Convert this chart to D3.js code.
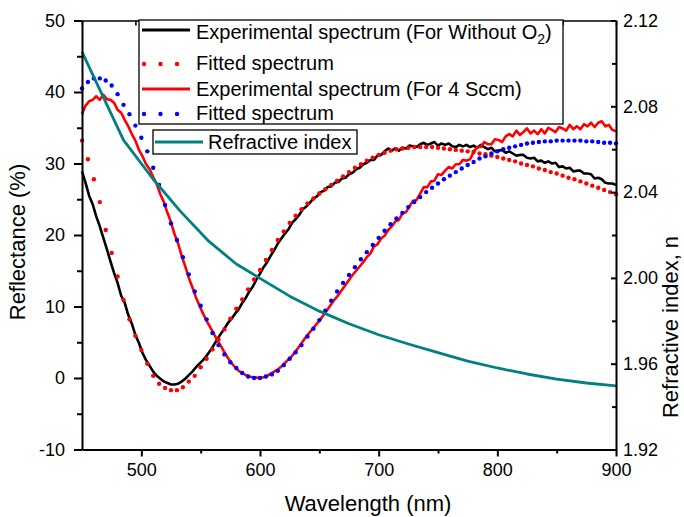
<!DOCTYPE html>
<html>
<head>
<meta charset="utf-8">
<script src="https://cdn.jsdelivr.net/npm/d3@7"></script>
<style>
  html, body { margin: 0; padding: 0; background: #fff; }
  svg { display: block; font-family: "Liberation Sans", Arial, Helvetica, sans-serif; }
</style>
</head>
<body>
<svg id="chart" width="684" height="517"></svg>
<script>
// Measured reflectance, sampled every 3 nm from 450 nm
const expStartNm = 450, expStepNm = 3;
const expWithoutO2 = [
  28.9, 27.3, 25.5, 24.3, 22.6, 21.2, 19.6, 18.0, 16.3, 14.7,
  13.3, 11.5, 10.5, 8.8, 7.6, 6.0, 4.9, 3.5, 2.5, 1.7,
  0.9, 0.3, -0.1, -0.5, -0.7, -0.9, -0.9, -0.8, -0.5, -0.1,
  0.4, 0.9, 1.5, 2.0, 2.5, 3.1, 3.8, 4.6, 5.4, 6.2,
  6.9, 7.7, 8.3, 9.0, 9.6, 10.5, 11.2, 12.1, 12.8, 13.8,
  14.6, 15.5, 16.2, 17.1, 17.9, 18.8, 19.5, 20.2, 20.8, 21.7,
  22.2, 22.8, 23.6, 24.0, 24.5, 25.1, 25.4, 26.0, 26.2, 26.7,
  26.8, 27.3, 27.4, 27.9, 28.0, 28.5, 28.7, 29.2, 29.4, 29.9,
  30.1, 30.5, 30.5, 31.1, 31.2, 31.7, 32.1, 31.8, 32.1, 31.8,
  32.2, 32.1, 32.5, 32.4, 32.3, 32.7, 32.9, 32.6, 32.8, 33.0,
  32.5, 32.8, 32.6, 32.8, 32.4, 32.3, 32.6, 32.4, 32.6, 32.3,
  32.5, 32.2, 32.6, 32.3, 32.0, 32.2, 31.7, 31.8, 31.9, 31.5,
  31.7, 31.4, 31.1, 31.2, 31.2, 30.8, 30.7, 30.8, 30.3, 30.4,
  30.1, 30.3, 30.0, 30.1, 29.5, 29.6, 29.3, 29.4, 28.9, 29.0,
  29.0, 28.6, 28.6, 28.5, 27.9, 28.0, 27.8, 27.3, 27.2, 27.2,
  27.0
];
const expFourSccm = [
  36.9, 38.1, 38.7, 38.9, 39.4, 38.9, 39.6, 39.0, 38.9, 38.5,
  37.5, 37.1, 36.1, 35.2, 34.1, 33.2, 31.9, 31.0, 29.9, 29.2,
  28.1, 27.1, 25.7, 24.6, 23.1, 21.8, 20.1, 18.8, 17.1, 15.6,
  14.0, 12.7, 11.3, 10.1, 9.0, 8.0, 7.1, 6.2, 5.3, 4.5,
  3.6, 2.8, 2.1, 1.5, 1.0, 0.7, 0.4, 0.2, 0.1, 0.05,
  0.0, 0.1, 0.3, 0.6, 0.9, 1.2, 1.6, 2.1, 2.6, 3.1,
  3.7, 4.4, 5.1, 5.8, 6.4, 7.0, 7.6, 8.2, 8.9, 9.6,
  10.3, 11.0, 11.6, 12.3, 13.0, 13.7, 14.4, 15.0, 15.6, 16.2,
  16.9, 17.4, 18.4, 18.7, 19.5, 19.9, 20.7, 21.2, 21.9, 22.1,
  23.0, 23.2, 24.0, 24.8, 24.9, 25.8, 26.7, 26.7, 27.5, 27.6,
  28.5, 28.4, 29.0, 29.5, 29.3, 29.9, 29.9, 30.5, 30.4, 30.6,
  31.6, 32.3, 32.3, 33.0, 32.7, 32.7, 33.4, 33.3, 33.0, 33.8,
  34.1, 33.8, 34.6, 34.0, 34.4, 34.9, 34.2, 34.6, 34.1, 34.8,
  34.2, 35.0, 34.7, 34.4, 35.1, 34.9, 34.6, 35.4, 34.8, 35.2,
  34.8, 35.5, 35.2, 35.7, 35.1, 35.7, 35.9, 35.2, 35.4, 34.7,
  34.5
];

// Fitted reflectance, sampled every 5 nm from 450 nm
const fitStartNm = 450, fitStepNm = 5;
const fitWithoutO2 = [
  33.2, 30.6, 27.8, 24.6, 20.7, 17.5, 14.2, 10.9, 8.2, 5.9,
  3.9, 2.0, 0.3, -0.8, -1.4, -1.7, -1.7, -1.3, -0.5, 0.3,
  1.5, 2.7, 4.0, 5.4, 6.8, 8.3, 9.7, 11.0, 12.4, 13.8,
  15.1, 16.5, 17.9, 19.3, 20.5, 21.7, 22.7, 23.6, 24.4, 25.1,
  25.8, 26.4, 27.0, 27.6, 28.2, 28.8, 29.4, 29.9, 30.4, 30.8,
  31.2, 31.5, 31.8, 32.0, 32.1, 32.2, 32.3, 32.3, 32.3, 32.3,
  32.2, 32.1, 32.0, 31.9, 31.8, 31.7, 31.6, 31.4, 31.3, 31.1,
  30.9, 30.7, 30.5, 30.3, 30.0, 29.8, 29.6, 29.3, 29.1, 28.8,
  28.6, 28.3, 28.0, 27.8, 27.5, 27.2, 26.9, 26.6, 26.3, 26.0,
  25.7
];
const fitFourSccm = [
  40.5, 41.4, 41.9, 41.9, 41.6, 40.9, 39.7, 38.2, 36.9, 35.3,
  33.6, 31.7, 29.4, 27.0, 24.2, 21.6, 19.3, 16.9, 14.5, 12.1,
  10.1, 8.2, 6.3, 4.6, 3.3, 2.2, 1.4, 0.7, 0.2, 0.0,
  0.0, 0.2, 0.5, 1.0, 1.8, 2.7, 3.6, 4.6, 5.8, 6.9,
  8.1, 9.4, 10.8, 12.1, 13.3, 14.4, 15.5, 16.6, 17.6, 18.6,
  19.6, 20.6, 21.5, 22.3, 23.1, 23.9, 24.6, 25.3, 26.0, 26.6,
  27.2, 27.8, 28.3, 28.8, 29.3, 29.8, 30.2, 30.7, 31.0, 31.4,
  31.7, 32.0, 32.2, 32.4, 32.6, 32.8, 32.9, 33.0, 33.1, 33.1,
  33.2, 33.2, 33.2, 33.2, 33.2, 33.1, 33.1, 33.0, 32.9, 32.9,
  32.8
];

// Refractive index dispersion
const indexWavelengths = [450, 485, 510, 533, 557, 580, 600, 625, 650, 675, 700, 725, 750, 775, 800, 825, 850, 875, 900];
const refractiveIndex  = [2.1054, 2.0642, 2.0460, 2.0310, 2.0170, 2.0065, 1.9998, 1.9915, 1.9845, 1.9786,
                          1.9735, 1.9692, 1.9652, 1.9612, 1.9580, 1.9552, 1.9528, 1.9510, 1.9497];

// Axis ticks
const wavelengthMajor = [500, 600, 700, 800, 900];
const wavelengthMinor = [550, 650, 750, 850];
const reflMajor = [-10, 0, 10, 20, 30, 40, 50];
const reflMinor = [-5, 5, 15, 25, 35, 45];
const indexMajor = [1.92, 1.96, 2.00, 2.04, 2.08, 2.12];
const indexMinor = [1.94, 1.98, 2.02, 2.06, 2.10];

// Legend entries
const legendMain = [
  { label: "Experimental spectrum (For Without O", sub: "2", tail: ")", color: "#000000", kind: "line" },
  { label: "Fitted spectrum", color: "#ff0000", kind: "dots" },
  { label: "Experimental spectrum (For 4 Sccm)", color: "#ff0000", kind: "line" },
  { label: "Fitted spectrum", color: "#0000ff", kind: "dots" }
];

const svg = d3.select("#chart");
const plot = { left: 82, right: 616, top: 20.5, bottom: 449.5 };

const x = d3.scaleLinear().domain([450, 900]).range([plot.left, plot.right]);
const yR = d3.scaleLinear().domain([-10, 50]).range([plot.bottom, plot.top]);
const yN = d3.scaleLinear().domain([1.92, 2.12]).range([plot.bottom, plot.top]);
const top10 = d3.scaleLinear().domain([0, 10]).range([plot.left, plot.right]);

svg.append("rect").attr("width", 684).attr("height", 517).attr("fill", "#fff");

const expPts = arr => arr.map((v, i) => [expStartNm + expStepNm * i, v]);
const fitPts = arr => arr.map((v, i) => [fitStartNm + fitStepNm * i, v]);

const lineR = d3.line().x(d => x(d[0])).y(d => yR(d[1]));
const lineN = d3.line().x(d => x(d[0])).y(d => yN(d[1]));

const curves = svg.append("g");

curves.append("path")
  .attr("d", lineR(expPts(expWithoutO2)))
  .attr("fill", "none").attr("stroke", "#000").attr("stroke-width", 2.6)
  .attr("stroke-linejoin", "round");

curves.append("g").selectAll("circle").data(fitPts(fitWithoutO2)).join("circle")
  .attr("cx", d => x(d[0])).attr("cy", d => yR(d[1])).attr("r", 2.2).attr("fill", "#ff0000");

curves.append("path")
  .attr("d", lineR(expPts(expFourSccm)))
  .attr("fill", "none").attr("stroke", "#ff0000").attr("stroke-width", 2.6)
  .attr("stroke-linejoin", "round");

curves.append("g").selectAll("circle").data(fitPts(fitFourSccm)).join("circle")
  .attr("cx", d => x(d[0])).attr("cy", d => yR(d[1])).attr("r", 2.2).attr("fill", "#0000ff");

curves.append("path")
  .attr("d", lineN(indexWavelengths.map((w, i) => [w, refractiveIndex[i]])))
  .attr("fill", "none").attr("stroke", "#008080").attr("stroke-width", 2.8)
  .attr("stroke-linejoin", "round");

// Axes
function styleAxis(g, width, fontSize) {
  g.selectAll("path.domain").attr("stroke", "#000").attr("stroke-width", width);
  g.selectAll(".tick line").attr("stroke", "#000").attr("stroke-width", width);
  g.selectAll(".tick text").attr("fill", "#000").style("font-size", fontSize + "px")
    .style("font-family", "\"Liberation Sans\", Arial, sans-serif");
}
const plainInt = d => String(d);   // hyphen-minus for negatives

// bottom
const gb = svg.append("g").attr("transform", `translate(0,${plot.bottom})`);
gb.append("g").call(d3.axisBottom(x).tickValues(wavelengthMajor).tickSize(7).tickSizeOuter(0).tickPadding(7).tickFormat(plainInt))
  .call(g => styleAxis(g, 2, 18));
gb.append("g").call(d3.axisBottom(x).tickValues(wavelengthMinor).tickSize(4).tickFormat(""))
  .call(g => { g.select(".domain").remove(); styleAxis(g, 2, 18); });

// top (unlabelled, inward ticks)
svg.append("g").attr("transform", `translate(0,${plot.top})`)
  .call(d3.axisTop(top10).ticks(10).tickSize(-5).tickSizeOuter(0).tickFormat(""))
  .call(g => styleAxis(g, 1.6, 18));

// left
const gl = svg.append("g").attr("transform", `translate(${plot.left},0)`);
gl.append("g").call(d3.axisLeft(yR).tickValues(reflMajor).tickSize(8).tickSizeOuter(0).tickPadding(9).tickFormat(plainInt))
  .call(g => styleAxis(g, 2, 18));
gl.append("g").call(d3.axisLeft(yR).tickValues(reflMinor).tickSize(5).tickFormat(""))
  .call(g => { g.select(".domain").remove(); styleAxis(g, 2, 18); });

// right (inward ticks)
const gr = svg.append("g").attr("transform", `translate(${plot.right},0)`);
gr.append("g").call(d3.axisRight(yN).tickValues(indexMajor).tickSize(-5).tickSizeOuter(0).tickPadding(7).tickFormat(d3.format(".2f")))
  .call(g => styleAxis(g, 2, 18));
gr.append("g").call(d3.axisRight(yN).tickValues(indexMinor).tickSize(-4).tickFormat(""))
  .call(g => { g.select(".domain").remove(); styleAxis(g, 2, 18); });

// Axis titles
const titleFont = 22;
svg.append("text").attr("x", 368).attr("y", 511).attr("text-anchor", "middle")
  .style("font-size", titleFont + "px").text("Wavelength (nm)");
svg.append("text").attr("transform", "translate(25,242) rotate(-90)").attr("text-anchor", "middle")
  .style("font-size", titleFont + "px").text("Reflectance (%)");
svg.append("text").attr("transform", "translate(678,327) rotate(-90)").attr("text-anchor", "middle")
  .style("font-size", titleFont + "px").text("Refractive index, n");

// Legend
const leg = svg.append("g");
leg.append("rect").attr("x", 139).attr("y", 20).attr("width", 424).attr("height", 104)
  .attr("fill", "#fff").attr("stroke", "#000").attr("stroke-width", 1.3);
const rowSample = [30, 64, 89, 114];
const rowBase = [39, 70, 96, 120];
legendMain.forEach((e, i) => {
  if (e.kind === "line") {
    leg.append("line").attr("x1", 142).attr("x2", 190).attr("y1", rowSample[i]).attr("y2", rowSample[i])
      .attr("stroke", e.color).attr("stroke-width", 3);
  } else {
    [144, 160.5, 177].forEach(cx => leg.append("circle").attr("cx", cx).attr("cy", rowSample[i]).attr("r", 2.2).attr("fill", e.color));
  }
  const t = leg.append("text").attr("x", 196).attr("y", rowBase[i]).style("font-size", "20px").text(e.label);
  if (e.sub) {
    t.append("tspan").attr("dy", 5).style("font-size", "14px").text(e.sub);
    t.append("tspan").attr("dy", -5).text(e.tail);
  }
});
leg.append("rect").attr("x", 153).attr("y", 130).attr("width", 204).attr("height", 24)
  .attr("fill", "#fff").attr("stroke", "#000").attr("stroke-width", 1.3);
leg.append("line").attr("x1", 155).attr("x2", 203).attr("y1", 142).attr("y2", 142)
  .attr("stroke", "#008080").attr("stroke-width", 3);
leg.append("text").attr("x", 208).attr("y", 149).style("font-size", "20px").text("Refractive index");
</script>
</body>
</html>
